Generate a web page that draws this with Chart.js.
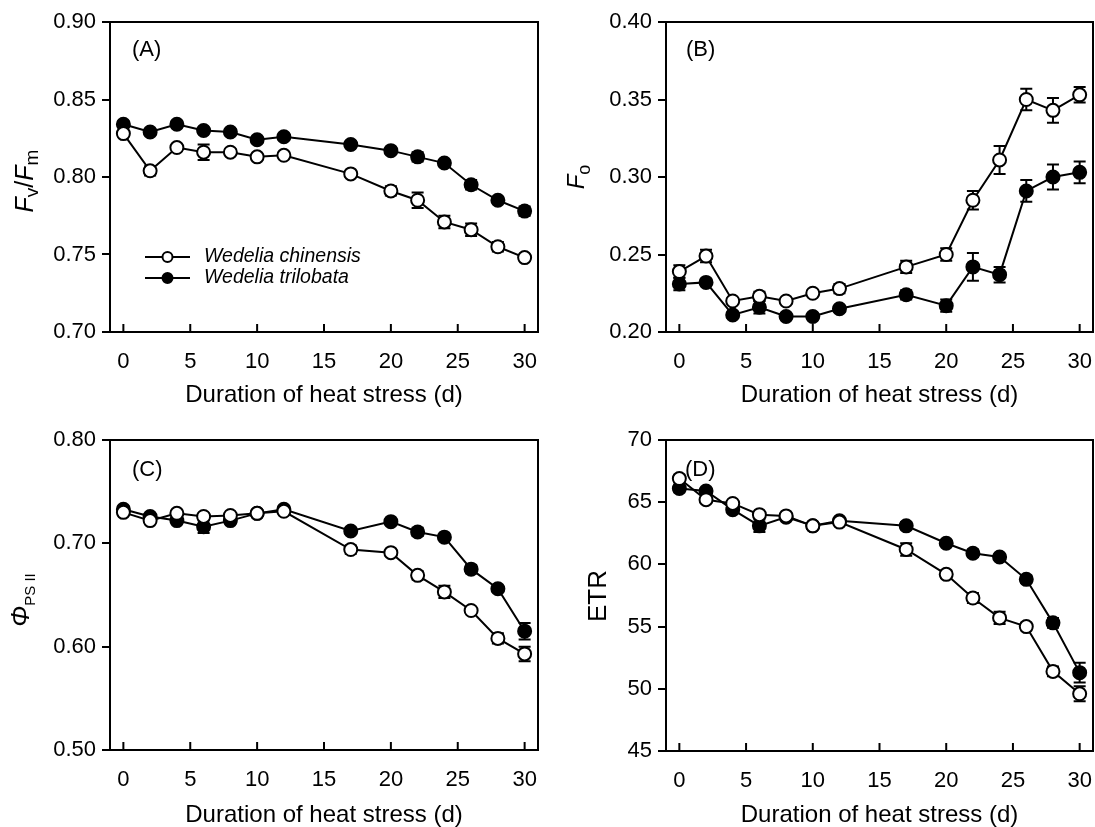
<!DOCTYPE html>
<html>
<head>
<meta charset="utf-8">
<script src="https://cdn.jsdelivr.net/npm/chart.js@4.4.1/dist/chart.umd.min.js"></script>
<style>
  html, body { margin: 0; padding: 0; background: #fff; overflow: hidden; }
  body { width: 1095px; height: 827px; position: relative; }
  .panel { position: absolute; }
</style>
</head>
<body>
<div class="panel" style="left:0;top:0"><canvas id="chartA" width="548" height="410"></canvas></div>
<div class="panel" style="left:548px;top:0"><canvas id="chartB" width="560" height="410"></canvas></div>
<div class="panel" style="left:0;top:410px"><canvas id="chartC" width="548" height="420"></canvas></div>
<div class="panel" style="left:548px;top:410px"><canvas id="chartD" width="560" height="420"></canvas></div>
<script>
var FONT = '"Liberation Sans", Arial, Helvetica, sans-serif';

// days of heat stress
var days = [0, 2, 4, 6, 8, 10, 12, 17, 20, 22, 24, 26, 28, 30];
var xTicks = [0, 5, 10, 15, 20, 25, 30];
var species = ["Wedelia chinensis", "Wedelia trilobata"];

// (A) Fv/Fm
var fvfmChin = [0.828, 0.804, 0.819, 0.816, 0.816, 0.813, 0.814, 0.802, 0.791, 0.785, 0.771, 0.766, 0.755, 0.748];
var fvfmChinErr = [0.002, 0.003, 0.002, 0.005, 0.002, 0.002, 0.002, 0.002, 0.003, 0.005, 0.004, 0.004, 0.003, 0.002];
var fvfmTril = [0.834, 0.829, 0.834, 0.830, 0.829, 0.824, 0.826, 0.821, 0.817, 0.813, 0.809, 0.795, 0.785, 0.778];
var fvfmTrilErr = [0.002, 0.002, 0.002, 0.002, 0.002, 0.002, 0.002, 0.002, 0.002, 0.003, 0.002, 0.003, 0.002, 0.003];
var fvfmTicks = [0.70, 0.75, 0.80, 0.85, 0.90];

// (B) Fo
var foChin = [0.239, 0.249, 0.220, 0.223, 0.220, 0.225, 0.228, 0.242, 0.250, 0.285, 0.311, 0.350, 0.343, 0.353];
var foChinErr = [0.004, 0.004, 0.002, 0.003, 0.002, 0.002, 0.003, 0.004, 0.004, 0.006, 0.009, 0.007, 0.008, 0.005];
var foTril = [0.231, 0.232, 0.211, 0.216, 0.210, 0.210, 0.215, 0.224, 0.217, 0.242, 0.237, 0.291, 0.300, 0.303];
var foTrilErr = [0.004, 0.002, 0.002, 0.004, 0.002, 0.002, 0.002, 0.003, 0.004, 0.009, 0.005, 0.007, 0.008, 0.007];
var foTicks = [0.20, 0.25, 0.30, 0.35, 0.40];

// (C) PhiPSII
var phiChin = [0.730, 0.722, 0.729, 0.726, 0.727, 0.729, 0.731, 0.694, 0.691, 0.669, 0.653, 0.635, 0.608, 0.593];
var phiChinErr = [0.003, 0.003, 0.002, 0.003, 0.002, 0.002, 0.002, 0.004, 0.003, 0.004, 0.006, 0.003, 0.005, 0.007];
var phiTril = [0.733, 0.726, 0.722, 0.716, 0.722, 0.729, 0.733, 0.712, 0.721, 0.711, 0.706, 0.675, 0.656, 0.615];
var phiTrilErr = [0.003, 0.002, 0.003, 0.006, 0.003, 0.002, 0.003, 0.003, 0.002, 0.004, 0.002, 0.004, 0.003, 0.008];
var phiTicks = [0.50, 0.60, 0.70, 0.80];

// (D) ETR
var etrChin = [66.9, 65.2, 64.9, 64.0, 63.9, 63.1, 63.4, 61.2, 59.2, 57.3, 55.7, 55.0, 51.4, 49.6];
var etrChinErr = [0.3, 0.2, 0.2, 0.2, 0.2, 0.2, 0.2, 0.5, 0.3, 0.4, 0.5, 0.3, 0.4, 0.6];
var etrTril = [66.1, 65.9, 64.4, 63.1, 63.8, 63.1, 63.5, 63.1, 61.7, 60.9, 60.6, 58.8, 55.3, 51.3];
var etrTrilErr = [0.3, 0.2, 0.2, 0.5, 0.2, 0.2, 0.2, 0.3, 0.2, 0.3, 0.2, 0.3, 0.4, 0.8];
var etrTicks = [45, 50, 55, 60, 65, 70];

// error bars, drawn under the markers
var errorBars = {
  id: "errorBars",
  beforeDatasetsDraw: function (chart) {
    var ctx = chart.ctx;
    var yScale = chart.scales.y;
    ctx.save();
    ctx.strokeStyle = "#000";
    ctx.lineWidth = 2;
    chart.data.datasets.forEach(function (ds, i) {
      var meta = chart.getDatasetMeta(i);
      meta.data.forEach(function (pt, j) {
        var v = ds.data[j].y;
        var e = ds.err[j];
        var top = yScale.getPixelForValue(v + e);
        var bot = yScale.getPixelForValue(v - e);
        ctx.beginPath();
        ctx.moveTo(pt.x, top);
        ctx.lineTo(pt.x, bot);
        ctx.moveTo(pt.x - 6, top);
        ctx.lineTo(pt.x + 6, top);
        ctx.moveTo(pt.x - 6, bot);
        ctx.lineTo(pt.x + 6, bot);
        ctx.stroke();
      });
    });
    ctx.restore();
  }
};

// box around the plot and inward ticks on the x axis
var frame = {
  id: "frame",
  afterDraw: function (chart) {
    var ctx = chart.ctx;
    var a = chart.chartArea;
    var xScale = chart.scales.x;
    ctx.save();
    ctx.strokeStyle = "#000";
    ctx.lineWidth = 2;
    ctx.strokeRect(a.left, a.top, a.right - a.left, a.bottom - a.top);
    ctx.beginPath();
    xScale.ticks.forEach(function (t) {
      var px = xScale.getPixelForValue(t.value);
      ctx.moveTo(px, a.bottom);
      ctx.lineTo(px, a.bottom - 8);
    });
    ctx.stroke();
    ctx.restore();
  }
};

// panel letter, y title with subscripts, legend
var annotations = {
  id: "annotations",
  afterDraw: function (chart) {
    var o = chart.options.plugins.annotations;
    var ctx = chart.ctx;
    ctx.save();
    ctx.fillStyle = "#000";
    ctx.font = "22px " + FONT;
    ctx.textAlign = "left";
    ctx.textBaseline = "middle";
    ctx.fillText(o.label, o.labelX, o.labelY);

    // rotated y title
    ctx.translate(o.titleX, o.titleY);
    ctx.rotate(-Math.PI / 2);
    ctx.textBaseline = "alphabetic";
    var total = 0, big = 0;
    o.title.forEach(function (p) {
      ctx.font = (p.italic ? "italic " : "") + p.size + "px " + FONT;
      p.w = ctx.measureText(p.text).width;
      total += p.w;
      big = Math.max(big, p.size);
    });
    var x = -total / 2;
    var base = big * 0.358;
    o.title.forEach(function (p) {
      ctx.font = (p.italic ? "italic " : "") + p.size + "px " + FONT;
      ctx.fillText(p.text, x, base + (p.dy || 0));
      x += p.w;
    });
    ctx.restore();

    if (o.legend) {
      ctx.save();
      ctx.strokeStyle = "#000";
      ctx.lineWidth = 2;
      ctx.font = "italic 19.5px " + FONT;
      ctx.textBaseline = "middle";
      [["#fff", 257], ["#000", 278]].forEach(function (row, i) {
        var yy = row[1];
        ctx.beginPath();
        ctx.moveTo(145, yy);
        ctx.lineTo(190, yy);
        ctx.stroke();
        ctx.beginPath();
        ctx.arc(167.5, yy, 5, 0, Math.PI * 2);
        ctx.fillStyle = row[0];
        ctx.fill();
        ctx.stroke();
        ctx.fillStyle = "#000";
        ctx.fillText(species[i], 204, yy);
      });
      ctx.restore();
    }
  }
};

function series(vals) {
  return days.map(function (d, i) { return { x: d, y: vals[i] }; });
}

function makePanel(id, p) {
  var canvas = document.getElementById(id);
  var W = canvas.width, H = canvas.height;
  var yMin = p.yTicks[0], yMax = p.yTicks[p.yTicks.length - 1];
  return new Chart(canvas.getContext("2d"), {
    type: "line",
    data: {
      datasets: [
        {
          label: species[0],
          data: series(p.chin),
          err: p.chinErr,
          borderColor: "#000",
          borderWidth: 2,
          pointRadius: 6.5,
          pointBorderWidth: 2,
          pointBackgroundColor: "#fff",
          pointBorderColor: "#000",
          fill: false,
          tension: 0
        },
        {
          label: species[1],
          data: series(p.tril),
          err: p.trilErr,
          borderColor: "#000",
          borderWidth: 2,
          pointRadius: 6.5,
          pointBorderWidth: 2,
          pointBackgroundColor: "#000",
          pointBorderColor: "#000",
          fill: false,
          tension: 0
        }
      ]
    },
    options: {
      responsive: false,
      animation: false,
      devicePixelRatio: 1,
      layout: { padding: { left: 0, top: p.area.top, right: W - p.area.right, bottom: 0 } },
      plugins: {
        legend: { display: false },
        tooltip: { enabled: false },
        annotations: p.notes
      },
      scales: {
        x: {
          type: "linear",
          min: -1,
          max: 31,
          afterBuildTicks: function (s) { s.ticks = xTicks.map(function (v) { return { value: v }; }); },
          afterFit: function (s) { s.height = H - p.area.bottom; },
          grid: { display: false },
          border: { display: false },
          ticks: { color: "#000", font: { family: FONT, size: 22 }, padding: 9, maxRotation: 0, autoSkip: false },
          title: { display: true, text: "Duration of heat stress (d)", color: "#000", font: { family: FONT, size: 24 }, padding: 0 }
        },
        y: {
          type: "linear",
          min: yMin,
          max: yMax,
          afterBuildTicks: function (s) { s.ticks = p.yTicks.map(function (v) { return { value: v }; }); },
          afterFit: function (s) { s.width = p.area.left; },
          grid: { drawOnChartArea: false, drawTicks: true, tickLength: 8, color: "#000", lineWidth: 2 },
          border: { display: false },
          ticks: {
            color: "#000",
            font: { family: FONT, size: 22 },
            padding: 6,
            callback: function (v) { return v.toFixed(p.decimals); }
          }
        }
      }
    },
    plugins: [errorBars, frame, annotations]
  });
}

makePanel("chartA", {
  chin: fvfmChin, chinErr: fvfmChinErr, tril: fvfmTril, trilErr: fvfmTrilErr,
  yTicks: fvfmTicks, decimals: 2,
  area: { left: 110, top: 22, right: 538, bottom: 332 },
  notes: {
    label: "(A)", labelX: 132, labelY: 50, titleX: 24, titleY: 181, legend: true,
    title: [
      { text: "F", italic: true, size: 25 },
      { text: "v", size: 19, dy: 5 },
      { text: "/", size: 25 },
      { text: "F", italic: true, size: 25 },
      { text: "m", size: 19, dy: 5 }
    ]
  }
});

makePanel("chartB", {
  chin: foChin, chinErr: foChinErr, tril: foTril, trilErr: foTrilErr,
  yTicks: foTicks, decimals: 2,
  area: { left: 118, top: 22, right: 545, bottom: 332 },
  notes: {
    label: "(B)", labelX: 138, labelY: 50, titleX: 27, titleY: 177,
    title: [
      { text: "F", italic: true, size: 24 },
      { text: "o", size: 18, dy: 6 }
    ]
  }
});

makePanel("chartC", {
  chin: phiChin, chinErr: phiChinErr, tril: phiTril, trilErr: phiTrilErr,
  yTicks: phiTicks, decimals: 2,
  area: { left: 110, top: 30, right: 538, bottom: 340 },
  notes: {
    label: "(C)", labelX: 132, labelY: 60, titleX: 20, titleY: 190,
    title: [
      { text: "\u03A6", italic: true, size: 25 },
      { text: "PS II", size: 15, dy: 6 }
    ]
  }
});

makePanel("chartD", {
  chin: etrChin, chinErr: etrChinErr, tril: etrTril, trilErr: etrTrilErr,
  yTicks: etrTicks, decimals: 0,
  area: { left: 118, top: 30, right: 545, bottom: 341 },
  notes: {
    label: "(D)", labelX: 137, labelY: 60, titleX: 49, titleY: 186,
    title: [
      { text: "ETR", size: 26 }
    ]
  }
});
</script>
</body>
</html>
